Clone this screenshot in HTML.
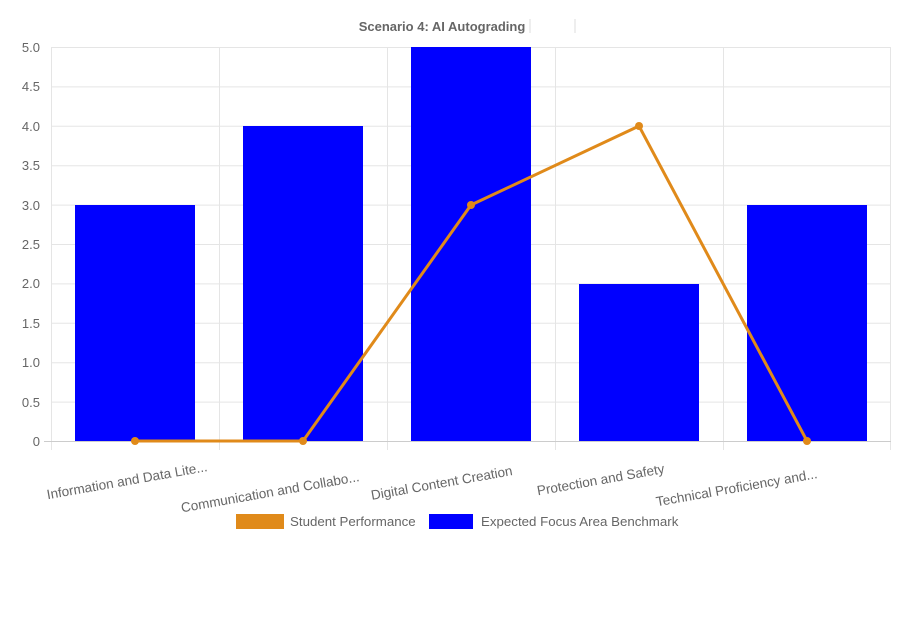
<!DOCTYPE html>
<html><head><style>body{margin:0;background:#fff}</style></head><body>
<svg width="921" height="623" xmlns="http://www.w3.org/2000/svg" font-family="Liberation Sans, sans-serif">
<rect width="921" height="623" fill="#fff"/>
<text x="442" y="31" font-size="13" font-weight="bold" fill="#666" text-anchor="middle">Scenario 4: AI Autograding</text>
<line x1="530" y1="19" x2="530" y2="33" stroke="#ddd"/>
<line x1="575" y1="19" x2="575" y2="33" stroke="#ddd"/>
<g stroke="#e5e5e5" stroke-width="1">
<line x1="52" y1="47.5" x2="891" y2="47.5"/><line x1="52" y1="86.9" x2="891" y2="86.9"/>
<line x1="52" y1="126.3" x2="891" y2="126.3"/><line x1="52" y1="165.7" x2="891" y2="165.7"/>
<line x1="52" y1="205.1" x2="891" y2="205.1"/><line x1="52" y1="244.5" x2="891" y2="244.5"/>
<line x1="52" y1="283.9" x2="891" y2="283.9"/><line x1="52" y1="323.3" x2="891" y2="323.3"/>
<line x1="52" y1="362.7" x2="891" y2="362.7"/><line x1="52" y1="402.1" x2="891" y2="402.1"/>
<line x1="51.5" y1="47" x2="51.5" y2="450"/><line x1="219.5" y1="47" x2="219.5" y2="450"/>
<line x1="387.5" y1="47" x2="387.5" y2="450"/><line x1="555.5" y1="47" x2="555.5" y2="450"/>
<line x1="723.5" y1="47" x2="723.5" y2="450"/><line x1="890.5" y1="47" x2="890.5" y2="450"/>
</g>
<line x1="44" y1="441.5" x2="891" y2="441.5" stroke="#ccc"/>
<g font-size="13" fill="#666" text-anchor="end">
<text x="40" y="52">5.0</text><text x="40" y="91">4.5</text><text x="40" y="131">4.0</text>
<text x="40" y="170">3.5</text><text x="40" y="210">3.0</text><text x="40" y="249">2.5</text>
<text x="40" y="288">2.0</text><text x="40" y="328">1.5</text><text x="40" y="367">1.0</text>
<text x="40" y="407">0.5</text><text x="40" y="446">0</text>
</g>
<g fill="#0000ff">
<rect x="75" y="205" width="120" height="236"/>
<rect x="243" y="126" width="120" height="315"/>
<rect x="411" y="47" width="120" height="394"/>
<rect x="579" y="284" width="120" height="157"/>
<rect x="747" y="205" width="120" height="236"/>
</g>
<polyline points="135,441 303,441 471,205 639,126 807,441" fill="none" stroke="#e08a1a" stroke-width="3"/>
<g fill="#e08a1a"><circle cx="135" cy="441" r="4"/><circle cx="303" cy="441" r="4"/><circle cx="471" cy="205" r="4"/><circle cx="639" cy="126" r="4"/><circle cx="807" cy="441" r="4"/></g>
<g font-size="13.5" fill="#666" text-anchor="end">
<text transform="translate(208,471) rotate(-10)">Information and Data Lite...</text>
<text transform="translate(360,481) rotate(-10)">Communication and Collabo...</text>
<text transform="translate(513,475) rotate(-10)">Digital Content Creation</text>
<text transform="translate(665,473) rotate(-10)">Protection and Safety</text>
<text transform="translate(818,478) rotate(-10)">Technical Proficiency and...</text>
</g>
<rect x="236" y="514" width="48" height="15" fill="#e08a1a"/>
<text x="290" y="526" font-size="13.3" fill="#666">Student Performance</text>
<rect x="429" y="514" width="44" height="15" fill="#0000ff"/>
<text x="481" y="526" font-size="13.3" fill="#666">Expected Focus Area Benchmark</text>
</svg>
</body></html>
